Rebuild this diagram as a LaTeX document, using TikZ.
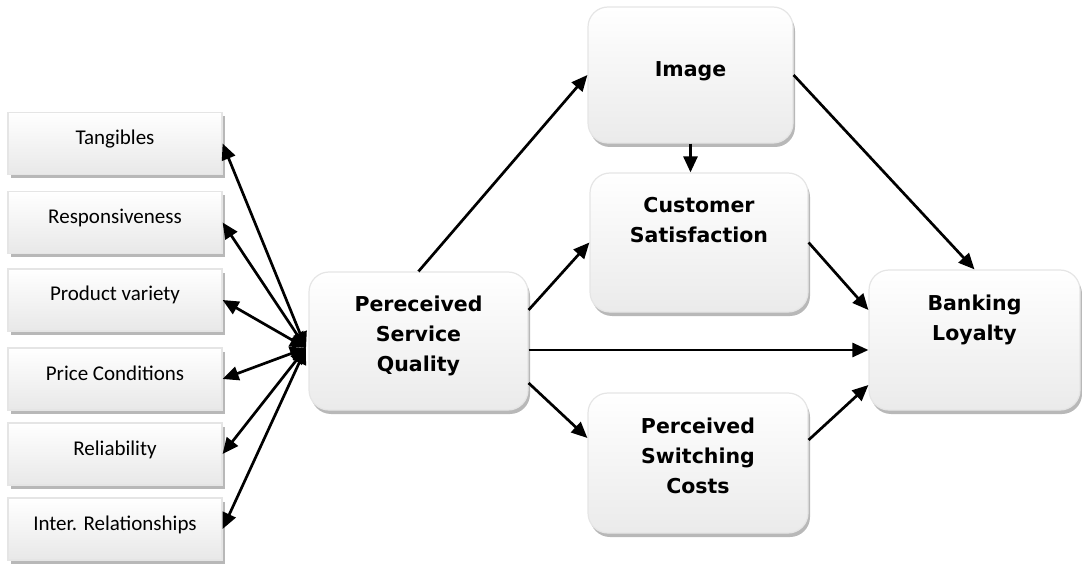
\documentclass[tikz,border=0pt]{standalone}
\usepackage{fontspec}
\setmainfont{Carlito}
\newfontfamily\verd{DejaVu Sans}
\usetikzlibrary{positioning}
\usetikzlibrary{shadows}
\usetikzlibrary{arrows.meta}
\usetikzlibrary{calc}
\tikzset{
  dim/.style={
    rectangle,
    draw=black!10,
    line width=1.2pt,
    top color=white,
    bottom color=black!9,
    minimum width=214pt,
    minimum height=62pt,
    text height=14pt,
    text depth=12pt,
    font=\fontsize{21}{24}\selectfont,
    drop shadow={shadow xshift=3pt, shadow yshift=-4pt, fill=black!28, opacity=1}},
  cons/.style 2 args={
    rectangle,
    rounded corners=20pt,
    draw=black!10,
    line width=1.2pt,
    top color=white,
    bottom color=black!8,
    minimum width=#1,
    minimum height=#2,
    text width=190pt,
    align=center,
    text height=15pt,
    text depth=75pt,
    font=\verd\bfseries\fontsize{20.5}{30}\selectfont,
    drop shadow={shadow xshift=2pt, shadow yshift=-4pt, fill=black!28, opacity=1}},
}

\begin{document}
\begin{tikzpicture}[x=1pt, y=-1pt,
  line width=2.7pt, >={Triangle[length=16pt,width=14pt]}]
  \useasboundingbox (0,0) rectangle (1082,564);

  \node[cons={219pt}{138pt}] (c-psq) at (418.5,341) {Pereceived\\Service\\Quality};
  \node[cons={205pt}{136pt}, text depth=12pt] (c-img) at (690.5,75) {Image};
  \node[cons={218pt}{139pt}] (c-cs) at (699,242.5) {Customer\\Satisfaction};
  \node[cons={220pt}{140pt}] (c-psc) at (698,463) {Perceived\\Switching\\Costs};
  \node[cons={211pt}{140pt}] (c-bl) at (974.5,340) {Banking\\Loyalty};
  \coordinate (hub) at (306,348);

  % dimensions of service quality
  \foreach \lbl/\y [count=\i from 1] in {Tangibles/143.5,Responsiveness/222.5,Product variety/300,Price Conditions/379,Reliability/454,Inter. Relationships/529} {
    \node[dim] (d-\i) at (115,\y) {\lbl};
    \draw[<->] (d-\i.east) -- (hub);
  }

  % paths of the model
  \draw[->] (c-psq.north) -- (c-img.west);
  \draw[->] ([yshift=31pt]c-psq.east) -- (c-cs.west);
  \draw[->] ([yshift=-9pt]c-psq.east) -- ([yshift=-9pt]c-psq.east -| c-bl.west);
  \draw[->] ([yshift=-42pt]c-psq.east) -- ([yshift=25pt]c-psc.west);
  \draw[->] (c-img.south) -- (c-img.south |- c-cs.north);
  \draw[->] (c-img.east) -- (c-bl.north);
  \draw[->] (c-cs.east) -- ([yshift=30pt]c-bl.west);
  \draw[->] ([yshift=23pt]c-psc.east) -- ([yshift=-45pt]c-bl.west);
\end{tikzpicture}
\end{document}
